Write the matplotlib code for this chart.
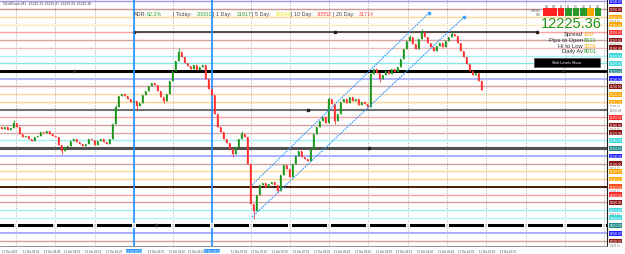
import matplotlib
matplotlib.use('Agg')
import matplotlib.pyplot as plt
from matplotlib.patches import Rectangle

# ---------------- data ----------------
first_open = 12177.0
closes = [12175.0, 12177.5, 12173.6, 12176.2, 12182.7, 12177.5, 12168.4, 12164.5, 12165.8, 12161.9,
          12159.4, 12164.5, 12165.8, 12171.0, 12169.7, 12172.3, 12168.4, 12165.8, 12164.5, 12154.2,
          12146.4, 12151.6, 12152.9, 12159.4, 12161.9, 12158.1, 12155.5, 12152.9, 12155.5, 12161.9,
          12160.6, 12154.2, 12159.4, 12161.9, 12158.1, 12155.5, 12161.9, 12181.4, 12203.4, 12217.6,
          12220.2, 12217.6, 12213.7, 12209.9, 12211.1, 12204.7, 12208.6, 12218.9, 12224.1, 12230.6,
          12234.5, 12231.9, 12224.1, 12216.3, 12211.1, 12220.2, 12237.0, 12250.0, 12263.0, 12274.6,
          12268.1, 12260.4, 12256.5, 12252.6, 12257.8, 12251.3, 12255.2, 12257.8, 12239.6, 12226.7,
          12218.9, 12194.3, 12177.5, 12171.0, 12161.9, 12156.8, 12149.0, 12142.5, 12151.6, 12161.9,
          12168.4, 12164.5, 12129.6, 12077.8, 12068.7, 12089.4, 12102.4, 12105.0, 12099.8, 12103.7,
          12106.3, 12102.4, 12094.6, 12115.3, 12128.3, 12123.1, 12112.7, 12129.6, 12140.0, 12146.4,
          12138.6, 12136.0, 12133.4, 12149.0, 12168.4, 12177.5, 12185.3, 12190.4, 12182.7, 12213.7,
          12207.3, 12185.3, 12194.3, 12209.9, 12213.7, 12208.6, 12216.3, 12211.1, 12213.7, 12206.0,
          12209.9, 12207.3, 12203.4, 12246.1, 12252.6, 12247.4, 12239.6, 12244.8, 12250.0, 12246.1,
          12252.6, 12248.7, 12255.2, 12265.5, 12278.5, 12288.9, 12294.0, 12285.0, 12278.5, 12291.4,
          12300.5, 12294.0, 12286.3, 12281.1, 12275.9, 12282.4, 12286.3, 12281.1, 12288.9, 12294.0,
          12297.9, 12295.3, 12286.3, 12275.9, 12268.1, 12259.1, 12250.0, 12244.8, 12247.4, 12237.0,
          12225.4]
wick_hi = {4: 12186.0, 38: 12206.0, 59: 12280.0, 80: 12172.0, 109: 12216.0, 123: 12249.0,
           136: 12297.0, 140: 12304.0, 150: 12300.0}
wick_lo = {20: 12142.0, 45: 12200.0, 54: 12208.0, 77: 12139.0, 84: 12058.0, 92: 12092.0,
           111: 12181.0, 126: 12236.0}

level_prices = [12340, 12330, 12320, 12310, 12300, 12290, 12280, 12270, 12260, 12250, 12240,
                12230, 12220, 12210, 12200, 12190, 12180, 12170, 12160, 12150, 12140, 12130,
                12120, 12110, 12100, 12090, 12080, 12070, 12060, 12050, 12040, 12030]
level_colors = ['#9a9af0', '#c89494', '#ffd890', '#ffe6c0', '#ffa0a0', '#d4a0a0', '#e8bcbc',
                '#a8f0f0', '#80e6e6', '#000000', '#a8a8ff', '#d0a0a0', '#ffd8a0', '#ffd090',
                '#707070', '#ffa0a0', '#d0a0a0', '#d8a8a8', '#a0f0f0', '#505050', '#a0a0ff',
                '#d0a0a0', '#ffd890', '#ffd090', '#4a1a0a', '#ffa0a0', '#d0a0a0', '#a0f0f0',
                '#b0f4f4', '#000000', '#a0a0ff', '#d0a0a0']
level_widths = [1.0, 1.0, 1.0, 1.0, 1.0, 1.0, 1.0, 1.0, 1.0, 2.0, 1.2, 1.0, 1.0, 1.0, 1.5, 1.0,
                1.0, 1.0, 1.0, 2.2, 1.2, 1.0, 1.0, 1.0, 1.4, 1.0, 1.0, 1.0, 1.0, 2.2, 1.2, 1.0]
label_colors = ['#2020ff', '#8b1414', '#ffa500', '#ffa500', '#ff2a2a', '#8b1414', '#8b1414',
                '#40d8d8', '#40d8d8', '#208a8a', '#2020ff', '#8b1414', '#ffa500', '#ffa500',
                '#ffffff', '#ff2a2a', '#8b1414', '#8b1414', '#40d8d8', '#208a8a', '#2020ff',
                '#8b1414', '#ffa500', '#ffa500', '#ff5020', '#ff2a2a', '#8b1414', '#40d8d8',
                '#40d8d8', '#208a8a', '#2020ff', '#8b1414']
scale_ticks = [12315.0, 12285.0, 12235.0, 12205.0, 12175.0, 12125.0, 12095.0, 12065.0, 12025.0]

# partial dark level segments
seg_prices = [12300, 12250]
seg_start = [44.2, -0.5]
seg_end = [178.5, 187.2]
seg_colors = ['#404040', '#000000']
seg_widths = [1.3, 2.0]
marker_x = [44.2, 111.2, 178.5, 24.0, 187.2, 102.2, 122.5, 51.5]
marker_p = [12300, 12300, 12300, 12250, 12250, 12200, 12150, 12050]

vlines_blue = [44.2, 70.2]
grid_x = [4.8, 17.8, 31.2, 44.2, 57.2, 70.2, 83.2, 96.2, 109.2, 122.2, 135.5, 148.5, 161.5,
          174.8, 187.8, 200.8]

chan_upper_x = [83.5, 142.5]
chan_upper_p = [12102.4, 12325.1]
chan_lower_x = [83.5, 154.2]
chan_lower_p = [12060.9, 12319.9]

time_labels = ['12 Oct 2022', '12 Oct 04:24', '12 Oct 04:40', '12 Oct 04:56', '12 Oct 05:12',
               '12 Oct 05:28', '12 Oct 06:00', '12 Oct 06:16', '12 Oct 06:32', '12 Oct 07:04',
               '12 Oct 07:20', '12 Oct 07:36', '12 Oct 07:52', '12 Oct 08:08', '12 Oct 08:24',
               '12 Oct 08:40', '12 Oct 08:56', '12 Oct 09:12', '12 Oct 09:28', '12 Oct 09:44',
               '12 Oct 10:00', '12 Oct 10:16', '12 Oct 10:32']
time_pos = [0.2, 7.1, 14.0, 20.9, 27.8, 34.7, 48.8, 55.7, 62.0, 76.4, 83.3, 90.2, 97.1, 104.0,
            110.9, 117.8, 124.8, 131.6, 138.6, 145.4, 152.3, 159.2, 166.2]
hl_labels = ['12 Oct 05:52', '12 Oct 06:48']
hl_pos = [44.2, 70.2]

stats_names = ['ADR:', '| Today:', '| 1 Day:', '| 5 Day:', '| 10 Day:', '| 20 Day:']
stats_vals = ['62.2%', '20001', '21917', '26144', '30552', '31714']
stats_cols = ['#2ca02c', '#2ca02c', '#2ca02c', '#e8e800', '#ff4040', '#ff4040']
stats_x = [134, 173, 213, 252, 291, 333]

info_names = ['Spread', 'Pips to Open', 'Hi to Low', 'Daily Av']
info_vals = ['100', '8111', '3001', '8001']
info_cols = ['#ffa500', '#2ca02c', '#ffa500', '#2ca02c']
big_price = '12225.36'

# ---------------- figure ----------------
W, H = 625, 255
SMALL = 'Liberation Sans'
fig = plt.figure(figsize=(W / 100, H / 100), dpi=100)
fig.patch.set_facecolor('white')
ax = fig.add_axes([0, 8 / H, 607 / W, 247 / H])
ax.set_xlim(-0.5, 201.83)
ax.set_ylim(12023.4, 12343.2)
ax.set_xticks([])
ax.set_yticks([])
for s in ['left', 'top']:
    ax.spines[s].set_visible(False)
ax.spines['right'].set_color('#202020')
ax.spines['right'].set_linewidth(0.8)
ax.spines['bottom'].set_color('#808080')
ax.spines['bottom'].set_linewidth(0.6)

for gx in grid_x:
    ax.axvline(gx, color='#b0b0b0', lw=0.6, ls=(0, (1.5, 1.5)), zorder=0.5)

for p, c, w in zip(level_prices, level_colors, level_widths):
    ax.axhline(p, color=c, lw=w, zorder=1)

for p, xs, xe, c, w in zip(seg_prices, seg_start, seg_end, seg_colors, seg_widths):
    ax.plot([xs, xe], [p, p], color=c, lw=w, zorder=1.5, solid_capstyle='butt')
ax.plot(marker_x, marker_p, 's', color='#202020', ms=1.8, zorder=1.6)

for vx in vlines_blue:
    ax.axvline(vx, color='#1e8fff', lw=1.2, zorder=2)

# small labels on bottom key line
for gx in grid_x:
    ax.text(gx, 12050, '12', fontsize=2.2, color='#909090', ha='center', va='center',
            zorder=2.2, family=SMALL,
            bbox=dict(boxstyle='square,pad=0.15', fc='white', ec='none'))

# candles
opens = [first_open] + closes[:-1]
for i, (o, c) in enumerate(zip(opens, closes)):
    col = '#1c961c' if c >= o else '#ff3030'
    lo = min(o, c)
    hi = max(o, c)
    if i in wick_hi:
        hi = wick_hi[i]
    if i in wick_lo:
        lo = wick_lo[i]
    ax.vlines(i, lo, hi, color=col, lw=0.6, zorder=3)
    ax.bar(i, c - o if abs(c - o) > 0.6 else 0.6, bottom=o, width=0.6, color=col,
           edgecolor=col, lw=0.2, zorder=3.1)

# channel
ax.plot(chan_upper_x, chan_upper_p, color='#3a9cff', lw=0.9, ls=(0, (1.2, 0.8)), zorder=4)
ax.plot(chan_lower_x, chan_lower_p, color='#3a9cff', lw=0.9, ls=(0, (1.2, 0.8)), zorder=4)
ax.plot([chan_upper_x[1], chan_lower_x[1]], [chan_upper_p[1], chan_lower_p[1]], 'o',
        color='#3a9cff', ms=1.6, zorder=4)

# right price labels
ytr = ax.get_yaxis_transform()
for p in scale_ticks:
    ax.text(1.004, p, f'{p:.2f}', transform=ytr, fontsize=1.9, color='#707070', ha='left',
            va='center', clip_on=False, family=SMALL)
for p, c in zip(level_prices, label_colors):
    tc = 'white' if c != '#ffffff' else '#707070'
    ax.text(1.004, p, f'{p:.2f}', transform=ytr, fontsize=2.2, color=tc, ha='left',
            va='center', clip_on=False, family=SMALL,
            bbox=dict(boxstyle='square,pad=0.12', fc=c, ec='none'))

# time labels
xtr = ax.get_xaxis_transform()
for t, x in zip(time_labels, time_pos):
    ax.text(x, -0.012, t, transform=xtr, fontsize=2.0, color='#404040', ha='left', va='top',
            clip_on=False, family=SMALL)
for t, x in zip(hl_labels, hl_pos):
    ax.text(x, -0.012, t, transform=xtr, fontsize=2.0, color='white', ha='center', va='top',
            clip_on=False, family=SMALL,
            bbox=dict(boxstyle='square,pad=0.1', fc='#3a9cff', ec='none'))

def ft(x, y, s, **kw):
    fig.text(x / W, 1 - y / H, s, **kw)

ft(3, 4, 'DE40Cash,M1  12225.33 12225.37 12225.00 12225.36', fontsize=2.6, color='#404040',
   va='center', family=SMALL)

for nm, v, c, x in zip(stats_names, stats_vals, stats_cols, stats_x):
    ft(x, 14.5, nm, fontsize=3.9, color='#404040', va='center', family=SMALL)
    off = 4.3 * len(nm) * 0.62 + 2
    ft(x + off, 14.5, v, fontsize=3.9, color=c, va='center', family=SMALL)

ft(602, 24, big_price, fontsize=10.5, color='#1c961c', ha='right', va='center', family=SMALL)
info_y = [35, 40.5, 46, 51.5]
for nm, v, c, y in zip(info_names, info_vals, info_cols, info_y):
    ft(583, y, nm, fontsize=4.2, color='#303030', ha='right', va='center', family=SMALL)
    ft(583.5, y, v, fontsize=4.2, color=c, ha='left', va='center', family=SMALL)

# signal grid top-right
cell_cols = ['#ff2020', '#ff2020', '#ff2020', '#2a9a2a', '#2a9a2a', '#2a9a2a', '#ffa500', '#2a9a2a']
tf_names = ['1M', '5M', '15', '30', '1H', '4H', 'D1', 'W1']
for j, (cc, tn) in enumerate(zip(cell_cols, tf_names)):
    x0 = 543 + j * 7.4
    fig.patches.append(Rectangle((x0 / W, 1 - 17 / H), 6.6 / W, 4.6 / H,
                                 transform=fig.transFigure, fc=cc, ec='none'))
    fig.patches.append(Rectangle((x0 / W, 1 - 12 / H), 6.6 / W, 3.0 / H,
                                 transform=fig.transFigure, fc=cc, ec='none'))
    ft(x0 + 3.3, 7.2, tn, fontsize=2.0, color='#505050', ha='center', va='center', family=SMALL)
ft(541, 11.5, 'TREND', fontsize=2.0, color='#505050', ha='right', va='center', family=SMALL)
ft(541, 14.8, 'SIG', fontsize=2.0, color='#505050', ha='right', va='center', family=SMALL)

# black button
fig.patches.append(Rectangle((534 / W, 1 - 68 / H), 66 / W, 9 / H, transform=fig.transFigure,
                             fc='black', ec='#404040', lw=0.4))
ft(567, 63.5, 'Shift Levels Show', fontsize=2.6, color='white', ha='center', va='center',
   family=SMALL)

fig.savefig('out.png', dpi=100)
